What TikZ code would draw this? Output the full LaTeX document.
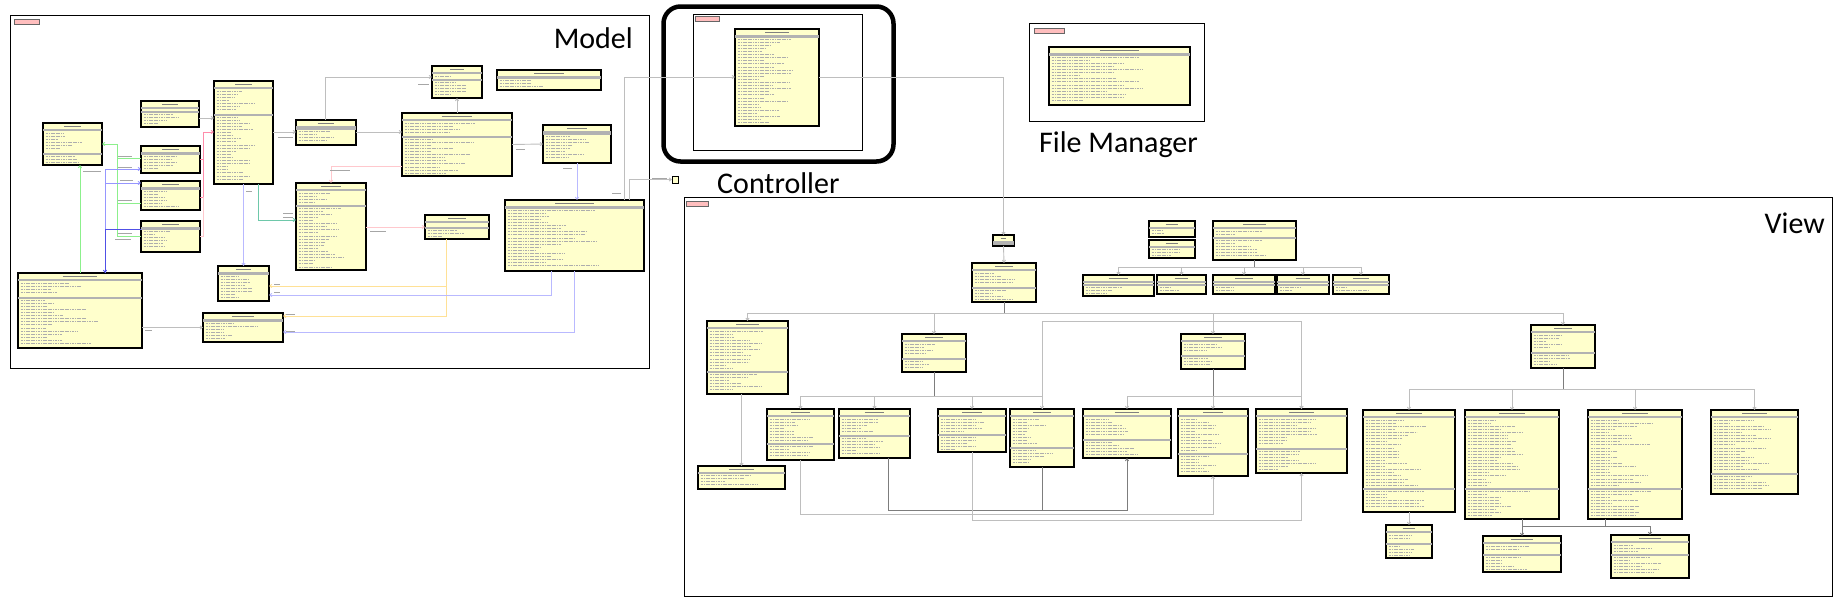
\documentclass[tikz,border=0pt]{standalone}
\usepackage{fontspec}
\setmainfont{Carlito}
\usetikzlibrary{arrows.meta}
\definecolor{gelb}{RGB}{255,255,204}
\definecolor{reiterrosa}{RGB}{255,190,190}
\definecolor{grau}{RGB}{190,190,190}
\definecolor{dunkelgrau}{RGB}{125,125,125}
\definecolor{gruen}{RGB}{140,240,140}
\definecolor{blau}{RGB}{150,150,255}
\definecolor{blaudunkel}{RGB}{80,80,230}
\definecolor{linkrosa}{RGB}{255,140,170}
\definecolor{hellrosa}{RGB}{255,200,205}
\definecolor{tuerkis}{RGB}{110,200,170}
\definecolor{lila}{RGB}{185,185,255}
\definecolor{ocker}{RGB}{255,225,150}
\tikzset{
 klasse/.style={draw=black, line width=1.3pt, fill=gelb, inner sep=0pt, outer sep=0pt},
 zeile/.style={line width=0.8pt, draw=black!32, dash pattern=on 1.2pt off 0.5pt},
 kopf/.style={line width=1pt, draw=black!50},
 trenn/.style={line width=0.5pt, draw=black!30},
 paket/.style={draw=black, line width=1pt},
 reiter/.style={draw=black!60, fill=reiterrosa, line width=0.4pt},
 titel/.style={font=\fontsize{30}{36}\selectfont, inner sep=0pt},
 beschr/.style={line width=0.7pt, draw=black!35},
 pfeil/.style={-{Straight Barb[length=2.2pt,width=3.2pt]}},
 vgrau/.style={draw=grau, line width=0.9pt},
 vdunkel/.style={draw=dunkelgrau, line width=0.9pt},
 vgruen/.style={draw=gruen, line width=0.9pt},
 vblau/.style={draw=blau, line width=0.9pt},
 vblaudunkel/.style={draw=blaudunkel, line width=0.9pt},
 vrosa/.style={draw=linkrosa, line width=0.9pt},
 vhellrosa/.style={draw=hellrosa, line width=0.9pt},
 vtuerkis/.style={draw=tuerkis, line width=0.9pt},
 vlila/.style={draw=lila, line width=0.9pt},
 vocker/.style={draw=ocker, line width=0.9pt}
}
% Zeilen einer Klasse: x1, x2, y von, y bis
\newcommand\zeilen[4]{%
 \pgfmathtruncatemacro\zn{floor(((#4)-(#3))/3.1)}%
 \ifnum\zn>0
  \foreach \i in {1,...,\zn}{
   \pgfmathsetmacro\zl{(0.2+0.5*rnd)*((#2)-(#1)-5)}
   \draw[zeile] ({#1+2.5},{(#3)+3.1*\i-1.6}) -- ++(\zl,0);
  }
 \fi}
% Klasse: Name, x1, y1, x2, y2, y der Trennlinie
\newcommand\klasse[6]{%
 \node[klasse, minimum width={(#4-#2)*1pt}, minimum height={(#5-#3)*1pt}] (#1) at ({(#2+#4)/2},{(#3+#5)/2}) {};
 \draw[kopf] ({(#2+#4)/2-0.14*(#4-#2)},#3+3.3) -- ({(#2+#4)/2+0.14*(#4-#2)},#3+3.3);
 \draw[trenn] (#2,#3+6.5) -- (#4,#3+6.5) (#2,#3+7.5) -- (#4,#3+7.5);
 \draw[trenn] (#2,#6) -- (#4,#6) (#2,#6+1) -- (#4,#6+1);
 \zeilen{#2}{#4}{#3+8.5}{#6-0.5}
 \zeilen{#2}{#4}{#6+1.5}{#5-1}
}
\begin{document}
\begin{tikzpicture}[x=1pt,y=-1pt]
\pgfmathsetseed{42}
\useasboundingbox (0,0) rectangle (1842,613);

%Pakete
\draw[paket] (10.5,15) rectangle (649.5,368);
\draw[reiter] (14,19) rectangle (39,24);
\draw[paket] (693,14) rectangle (862,150);
\draw[reiter] (695,16) rectangle (719,21);
\draw[line width=4.5pt, rounded corners=17pt] (663.5,6.5) rectangle (893.5,161.5);
\draw[paket] (1029,23) rectangle (1204,121);
\draw[reiter] (1034,28) rectangle (1064,33);
\draw[paket] (684,197) rectangle (1832,596);
\draw[reiter] (686,201) rectangle (708,206);
\node[titel, anchor=base east] at (633,48) {Model};
\node[titel, anchor=base west] at (717,193) {Controller};
\node[titel, anchor=base west] at (1039,152) {File Manager};
\node[titel, anchor=base east] at (1825,233) {View};

%Model
\klasse{m1}{43}{123}{102}{165}{153}
\klasse{m2}{141}{101}{199}{127}{111}
\klasse{m3}{141}{146}{200}{173}{153}
\klasse{m4}{141}{181}{200}{210}{188}
\klasse{m5}{141}{221}{200}{252}{228}
\klasse{m6}{18}{273}{142}{348}{297}
\klasse{m7}{214}{81}{273}{184}{114}
\klasse{m8}{296}{120}{356}{145}{128}
\klasse{m9}{432}{66}{482}{98}{79}
\klasse{m10}{497}{70}{601}{90}{77}
\klasse{m11}{402}{113}{512}{176}{136}
\klasse{m12}{543}{125}{611}{163}{133}
\klasse{m13}{296}{183}{366}{270}{205}
\klasse{m14}{425}{215}{489}{239}{227}
\klasse{m15}{505}{200}{644}{271}{207}
\klasse{m16}{218}{266}{269}{301}{273}
\klasse{m17}{203}{313}{283}{342}{320}

%Controller und File Manager
\klasse{c1}{735}{29}{819}{126}{36}
\klasse{f1}{1049}{47}{1190}{105}{54}
\node[klasse, line width=0.8pt, minimum width=6pt, minimum height=7pt] (sq) at (675,179.5) {};

%View
\klasse{v1}{993}{235}{1014}{246}{243}
\klasse{v2}{972}{263}{1036}{302}{287}
\klasse{v3}{1149}{221}{1195}{237}{227}
\klasse{v4}{1149}{240}{1195}{258}{246}
\klasse{v5}{1213}{221}{1296}{260}{237}
\klasse{v6}{1083}{275}{1154}{296}{284}
\klasse{v7}{1157}{275}{1206}{294}{284}
\klasse{v8}{1213}{275}{1275}{294}{284}
\klasse{v9}{1277}{275}{1329}{294}{284}
\klasse{v10}{1333}{275}{1389}{294}{284}
\klasse{v11}{707}{321}{788}{394}{371}
\klasse{v12}{902}{334}{966}{372}{358}
\klasse{v13}{1181}{334}{1245}{369}{355}
\klasse{v14}{1531}{325}{1595}{368}{352}
\klasse{v15}{767}{409}{834}{460}{443}
\klasse{v16}{839}{409}{910}{458}{435}
\klasse{v17}{938}{409}{1006}{452}{434}
\klasse{v18}{1010}{409}{1074}{467}{447}
\klasse{v19}{1083}{409}{1171}{458}{439}
\klasse{v20}{1178}{409}{1248}{476}{453}
\klasse{v21}{1256}{409}{1347}{473}{448}
\klasse{v22}{1363}{410}{1455}{512}{488}
\klasse{v23}{1465}{410}{1559}{519}{488}
\klasse{v24}{1588}{410}{1682}{519}{488}
\klasse{v25}{1711}{410}{1798}{494}{473}
\klasse{v26}{698}{466}{785}{489}{472}
\klasse{v27}{1386}{525}{1432}{558}{543}
\klasse{v28}{1483}{536}{1561}{572}{554}
\klasse{v29}{1611}{535}{1689}{578}{554}

%Verbindungen Model
\draw[vgruen,pfeil] (m3.west |- 0,158) -| (117,144) -- (m1.east |- 0,144);
\draw[vgruen] (m4.west |- 0,203) -| (117,158);
\draw[vgruen] (m5.west |- 0,236) -| (117,203);
\draw[vgruen,pfeil] (m6.north -| 80,0) -- (m1.south -| 80,0);
\draw[vblau,pfeil] (m6.north -| 105,0) |- (m3.west |- 0,169);
\draw[vblau,pfeil] (m6.north -| 105,0) |- (m4.west |- 0,183);
\draw[vblaudunkel,pfeil] (m5.west |- 0,229) -| (m6.north -| 105,0);
\draw[vrosa,pfeil] (m3.east |- 0,159) -| (203,132) -- (m7.west |- 0,132);
\draw[vrosa] (m4.east |- 0,197) -| (203,159);
\draw[vhellrosa] (m5.east |- 0,236) -| (203,197);
\draw[vgrau,pfeil] (m2.east |- 0,118) -- (m7.west |- 0,118);
\draw[vgrau,pfeil] (m7.east |- 0,132) -- (m8.west |- 0,132);
\draw[vgrau,pfeil] (m8.north -| 325,0) |- (m9.west |- 0,77);
\draw[vgrau,pfeil] (m8.east |- 0,132) -- (m11.west |- 0,132);
\draw[vgrau,pfeil] (m11.north) -- (m9.south);
\draw[vgrau,pfeil] (m11.east) -- (m12.west);
\draw[vhellrosa,pfeil] (m11.west |- 0,166) -| (m13.north);
\draw[vtuerkis,pfeil] (m7.south -| 258,0) |- (m13.west |- 0,220);
\draw[vlila,pfeil] (m16.north |- m7.south) -- (m16.north);
\draw[vhellrosa,pfeil] (m13.east |- m14.west) -- (m14.west);
\draw[vlila,pfeil] (m12.south) -- (m15.north -| m12.south);
\draw[vocker,pfeil] (m14.south -| 446,0) |- (m17.east |- 0,316);
\draw[vocker,pfeil] (m14.south -| 446,0) |- (m16.east |- 0,286);
\draw[vlila,pfeil] (m15.south -| 551,0) |- (m16.east |- 0,295);
\draw[vlila,pfeil] (m15.south -| 574,0) |- (m17.east |- 0,332);
\draw[vgrau,pfeil] (m6.east |- m17.west) -- (m17.west);
\draw[vgrau,pfeil] (m15.north -| 624,0) |- (c1.west |- 0,77);
\draw[vgrau,pfeil] (m15.north -| 629,0) |- (sq.west);
\foreach \lx/\ly/\ll in {118/156/14, 118/167/14, 120/180/13, 118/200/14, 118/233/14, 115/239/16,
  83/171/18, 278/137/15, 418/84/11, 516/149/9, 330/170/20, 283/213/10, 283/217/10, 246/191/6,
  370/231/16, 563/168/9, 274/284/6, 274/292/6, 286/314/9, 286/331/9, 145/330/7, 612/193/9, 652/178/15}
  \draw[beschr] (\lx,\ly) -- ++(\ll,0);

%Verbindungen View
\draw[vgrau,pfeil] (c1.east |- 0,77) -| (v1.north);
\draw[vgrau,pfeil] (v1.south) -- (v2.north);
\foreach \k in {v11,v12,v13,v14}
  \draw[vgrau,pfeil] (v2.south) -- ++(0,11) -| (\k.north);
\draw[vdunkel] (v2.south) -- ++(0,11);
\foreach \k in {v6,v7,v8,v9,v10}
  \draw[vgrau,pfeil] (v5.south) -- ++(0,7) -| (\k.north);
\draw[vdunkel] (v5.south) -- ++(0,7);
\foreach \k in {v15,v16,v17,v18}
  \draw[vgrau,pfeil] (v12.south) -- ++(0,24) -| (\k.north);
\draw[vdunkel] (v12.south) -- ++(0,24);
\foreach \k in {v19,v20,v21}
  \draw[vgrau,pfeil] (v13.south) -- ++(0,27) -| (\k.north);
\draw[vdunkel] (v13.south) -- ++(0,27);
\foreach \k in {v22,v23,v24,v25}
  \draw[vgrau,pfeil] (v14.south) -- ++(0,21) -| (\k.north);
\draw[vdunkel] (v14.south) -- ++(0,21);
\draw[vgrau,pfeil] (v26.north |- v11.south) -- (v26.north);
\draw[vgrau,pfeil] (v22.south) -- (v27.north);
\draw[vdunkel,pfeil] (v28.north |- v23.south) -- (v28.north);
\draw[vdunkel,pfeil] (v28.north |- 0,526) -| (v29.north);
\draw[vdunkel] (v24.south -| 1605,0) -- ++(0,7);
\draw[vgrau,pfeil] (v18.north) -- ++(0,-88) -| (v21.north);
\draw[vgrau,pfeil] (v15.south) -- ++(0,54) -| (v20.south);
\draw[vdunkel,pfeil] (v16.south -| 888,0) -- ++(0,52) -| (v19.south);
\draw[vdunkel] (v18.south) -- ++(0,43);
\draw[vgrau,pfeil] (v17.south) -- ++(0,68) -| (v21.south);

\end{tikzpicture}
\end{document}
